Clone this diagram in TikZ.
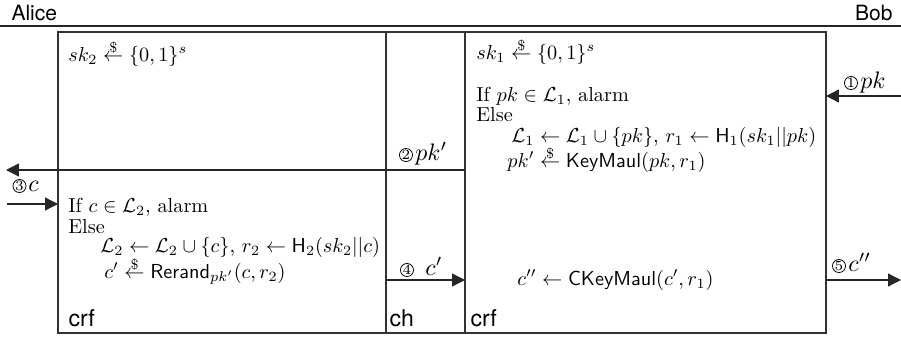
\documentclass[tikz,border=0pt]{standalone}
\usepackage{amsmath}
\usepackage{fontspec}
\newfontfamily\labelfont{TeX Gyre Heros}
\usetikzlibrary{arrows.meta}
% random sampling arrow: a small dollar sign resting on a left arrow
\newcommand{\rsample}{\mathrel{\hbox{\ooalign{$\leftarrow$\cr\hidewidth\raisebox{1.02ex}{$\scriptstyle\$$}\hidewidth\cr}}}}
\begin{document}
\begin{tikzpicture}[x=0.39pt,y=-0.39pt,
  rule/.style={line width=0.45pt, draw=black!80},
  msg/.style={line width=0.5pt, draw=black!85, -{Triangle[length=5pt,width=5pt]}},
  txt/.style={anchor=base west, inner sep=0pt, font=\fontsize{10}{12}\selectfont, scale=0.79, transform shape},
  mlab/.style={anchor=base west, inner sep=0pt, font=\fontsize{10}{12}\selectfont, scale=0.93, transform shape},
  lbl/.style={anchor=base west, inner sep=0pt, font=\labelfont\fontsize{9}{10}\selectfont},
  party/.style={inner sep=0pt, font=\labelfont\fontsize{8.2}{9}\selectfont},
  num/.style={circle, draw, line width=0.3pt, inner sep=0pt, minimum size=5.1pt, font=\fontsize{5.5}{5.5}\selectfont},
]
\useasboundingbox (0,0) rectangle (901,337);

% parties and the separating rule
\node[party, anchor=base west] (alice) at (11,20) {Alice};
\node[party, anchor=base east] (bob) at (893,20) {Bob};
\draw[line width=0.55pt, black!85] (0,26) -- (901,26);

% the three boxes: reverse firewall, channel, reverse firewall
\coordinate (tl) at (58,32);
\coordinate (br) at (826,333);
\coordinate (d1t) at (386,32);
\coordinate (d1b) at (386,333);
\coordinate (d2t) at (465,32);
\coordinate (d2b) at (465,333);
\draw[rule] (tl) rectangle (br);
\draw[rule] (d1t) -- (d1b);
\draw[rule] (d2t) -- (d2b);

\node[lbl] (crfA) at (68,326) {crf};
\node[lbl] (chan) at (389,326) {ch};
\node[lbl] (crfB) at (470,326) {crf};

% left firewall
\node[txt] (l1) at (68,61) {$sk_2 \rsample \{0,1\}^s$};
\node[txt] (l2) at (68,212) {If $c \in \mathcal{L}_2$, alarm};
\node[txt] (l3) at (68,233) {Else};
\node[txt] (l4) at (100,252) {$\mathcal{L}_2 \leftarrow \mathcal{L}_2 \cup \{c\}$, $r_2 \leftarrow \mathsf{H}_2(sk_2||c)$};
\node[txt] (l5) at (104,278) {$c' \rsample \mathsf{Rerand}_{pk'}(c,r_2)$};

% right firewall
\node[txt] (r1) at (476,59) {$sk_1 \rsample \{0,1\}^s$};
\node[txt] (r2) at (476,101) {If $pk \in \mathcal{L}_1$, alarm};
\node[txt] (r3) at (476,121) {Else};
\node[txt] (r4) at (511,142) {$\mathcal{L}_1 \leftarrow \mathcal{L}_1 \cup \{pk\}$, $r_1 \leftarrow \mathsf{H}_1(sk_1||pk)$};
\node[txt] (r5) at (507,167) {$pk' \rsample \mathsf{KeyMaul}(pk, r_1)$};
\node[txt] (r6) at (517,285) {$c'' \leftarrow \mathsf{CKeyMaul}(c', r_1)$};

% message end points
\coordinate (m1s) at (901,96);  \coordinate (m1e) at (826,96);
\coordinate (m2s) at (465,170); \coordinate (m2e) at (6,170);
\coordinate (m3s) at (7,204);   \coordinate (m3e) at (58,204);
\coordinate (m4s) at (386,280); \coordinate (m4e) at (465,280);
\coordinate (m5s) at (826,280); \coordinate (m5e) at (901,280);

\draw[msg] (m1s) -- (m1e);
\draw[msg] (m2s) -- (m2e);
\draw[msg] (m3s) -- (m3e);
\draw[msg] (m4s) -- (m4e);
\draw[msg] (m5s) -- (m5e);

% message labels
\node[num] (n1) at (851,83) {1};
\node[mlab] (t1) at (860,88) {$pk$};
\node[num] (n2) at (406,155) {2};
\node[mlab] (t2) at (415,160) {$pk'$};
\node[num] (n3) at (19.5,186) {3};
\node[mlab] (t3) at (28,191) {$c$};
\node[num] (n4) at (407,270) {4};
\node[mlab] (t4) at (425,275) {$c'$};
\node[num] (n5) at (839,266) {5};
\node[mlab] (t5) at (848,271) {$c''$};
\end{tikzpicture}
\end{document}
